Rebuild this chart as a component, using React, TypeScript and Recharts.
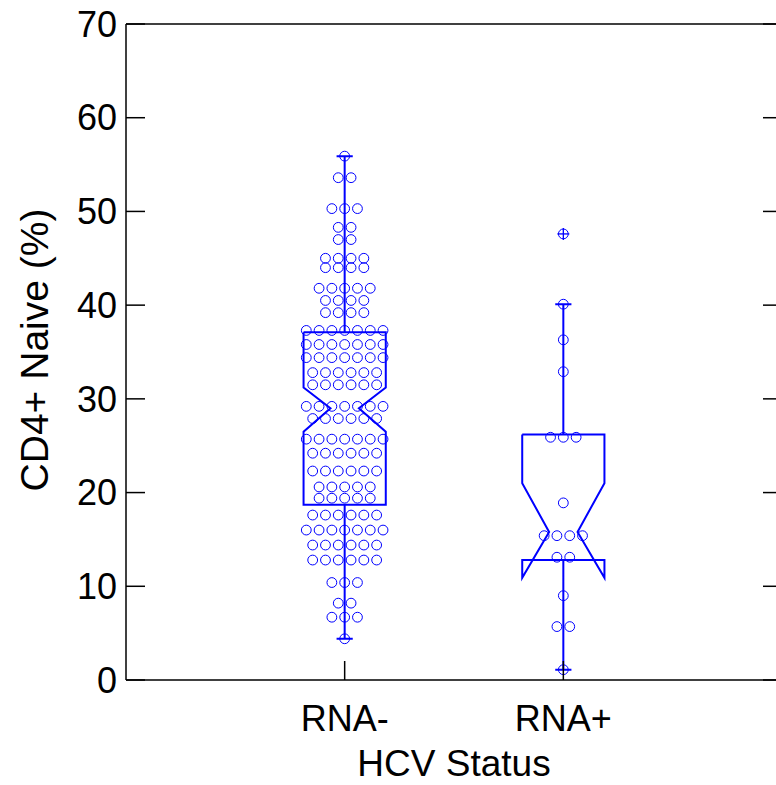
import React from 'react';
import { ComposedChart, XAxis, YAxis, Scatter, Line, ReferenceLine } from 'recharts';

const groupNames = ['RNA-', 'RNA+'];
const groupPositions = [1, 2];

// beeswarm rows: value and number of circles at that value
const rnaNegValues = [55.9, 53.6, 50.3, 48.3, 47.0, 45.0, 44.0, 41.8, 40.5, 39.2, 37.3, 35.8, 34.4, 32.8, 31.5,
  29.2, 27.9, 25.7, 24.2, 22.3, 20.6, 19.4, 17.6, 16.0, 14.4, 12.8, 10.4, 8.2, 6.7, 4.4];
const rnaNegCounts = [1, 2, 3, 2, 2, 4, 4, 5, 4, 4, 7, 7, 7, 6, 6,
  7, 6, 7, 6, 6, 5, 5, 6, 7, 6, 6, 3, 2, 3, 1];

const rnaPosValues = [40.1, 36.3, 32.9, 25.9, 18.9, 15.4, 13.1, 9.0, 5.7, 1.1];
const rnaPosCounts = [1, 1, 1, 3, 1, 4, 2, 1, 2, 1];
const rnaPosOutliers = [47.6];

// box stats: whisker low, Q1, notch low, median, notch high, Q3, whisker high
const rnaNegBox = { lo: 4.4, q1: 18.7, nLo: 26.5, med: 29.0, nHi: 31.2, q3: 37.1, hi: 55.9 };
const rnaPosBox = { lo: 1.1, q1: 12.8, nLo: 10.9, med: 15.8, nHi: 21.0, q3: 26.2, hi: 40.1 };

const yTicks = [0, 10, 20, 30, 40, 50, 60, 70];

const BLUE = '#0000ff';
const FONT = '"Liberation Sans", Arial, sans-serif';
const BOX_HALF = 0.188;
const NOTCH_HALF = 0.065;
const CAP_HALF = 0.037;
const DOT_STEP = 0.0585;

type Box = typeof rnaNegBox;

function swarm(center: number, values: number[], counts: number[]) {
  const pts: { x: number; y: number }[] = [];
  values.forEach((v, r) => {
    const n = counts[r];
    for (let i = 0; i < n; i++) {
      pts.push({ x: center + (i - (n - 1) / 2) * DOT_STEP, y: v });
    }
  });
  return pts;
}

function boxPath(c: number, b: Box) {
  const hw = BOX_HALF, nw = NOTCH_HALF, cw = CAP_HALF;
  return [
    { x: c - hw, y: b.q3 }, { x: c + hw, y: b.q3 }, { x: c + hw, y: b.nHi }, { x: c + nw, y: b.med },
    { x: c + hw, y: b.nLo }, { x: c + hw, y: b.q1 }, { x: c - hw, y: b.q1 }, { x: c - hw, y: b.nLo },
    { x: c - nw, y: b.med }, { x: c - hw, y: b.nHi }, { x: c - hw, y: b.q3 },
    { x: c, y: null },
    { x: c, y: b.q3 }, { x: c, y: b.hi },
    { x: c, y: null },
    { x: c, y: b.q1 }, { x: c, y: b.lo },
    { x: c, y: null },
    { x: c - cw, y: b.hi }, { x: c + cw, y: b.hi },
    { x: c, y: null },
    { x: c - cw, y: b.lo }, { x: c + cw, y: b.lo },
  ];
}

const negDots = swarm(groupPositions[0], rnaNegValues, rnaNegCounts);
const posDots = swarm(groupPositions[1], rnaPosValues, rnaPosCounts);
const outlierDots = rnaPosOutliers.map((v) => ({ x: groupPositions[1], y: v }));
const negBoxLine = boxPath(groupPositions[0], rnaNegBox);
const posBoxLine = boxPath(groupPositions[1], rnaPosBox);
// keeps the right-hand tick axis alive; draws nothing
const rightAnchor = yTicks.map((t) => ({ x: groupPositions[0], y: t }));

const Ring = (props: any) => (
  <circle cx={props.cx} cy={props.cy} r={4.9} fill="none" stroke={BLUE} strokeWidth={1} />
);

const OutlierMark = (props: any) => (
  <g stroke={BLUE} fill="none">
    <circle cx={props.cx} cy={props.cy} r={4.9} strokeWidth={1} />
    <line x1={props.cx - 6} y1={props.cy} x2={props.cx + 6} y2={props.cy} strokeWidth={1.3} />
    <line x1={props.cx} y1={props.cy - 6} x2={props.cx} y2={props.cy + 6} strokeWidth={1.3} />
  </g>
);

const Nothing = () => <g />;

const LeftTick = (props: any) => {
  const { x, y, payload } = props;
  return (
    <g>
      <line x1={x} y1={y} x2={x + 19} y2={y} stroke="#000" strokeWidth={1.5} />
      <text x={x - 9} y={y} dy="0.355em" textAnchor="end" fontSize={36} fontFamily={FONT} fill="#000">
        {payload.value}
      </text>
    </g>
  );
};

const RightTick = (props: any) => {
  const { x, y } = props;
  return <line x1={x} y1={y} x2={x - 19} y2={y} stroke="#000" strokeWidth={1.5} />;
};

const BottomTick = (props: any) => {
  const { x, y, payload } = props;
  const idx = groupPositions.indexOf(payload.value);
  return (
    <g>
      <line x1={x} y1={y} x2={x} y2={y - 19} stroke="#000" strokeWidth={1.5} />
      <text x={x} y={y + 51} textAnchor="middle" fontSize={36} fontFamily={FONT} fill="#000">
        {idx >= 0 ? groupNames[idx] : ''}
      </text>
    </g>
  );
};

export default function App() {
  return (
    <div style={{ position: 'absolute', left: 0, top: 0, width: 776, height: 785, overflow: 'hidden', background: '#fff' }}>
      <ComposedChart width={790} height={785} margin={{ top: 24, right: 0, bottom: 0, left: 0 }}>
        <XAxis
          type="number"
          dataKey="x"
          domain={[0, 3]}
          ticks={groupPositions}
          interval={0}
          height={105}
          tickSize={0}
          tickMargin={0}
          tick={BottomTick}
          axisLine={{ stroke: '#000', strokeWidth: 1.5 }}
          label={{
            content: () => (
              <text x={454} y={776} textAnchor="middle" fontSize={37} fontFamily={FONT} fill="#000">
                HCV Status
              </text>
            ),
          }}
        />
        <YAxis
          type="number"
          dataKey="y"
          domain={[0, 70]}
          ticks={yTicks}
          interval={0}
          width={126}
          tickSize={0}
          tickMargin={0}
          tick={LeftTick}
          axisLine={{ stroke: '#000', strokeWidth: 1.5 }}
          label={{
            content: () => (
              <text
                x={34}
                y={350}
                transform="rotate(-90, 34, 350)"
                textAnchor="middle"
                dominantBaseline="central"
                fontSize={39}
                fontFamily={FONT}
                fill="#000"
              >
                CD4+ Naive (%)
              </text>
            ),
          }}
        />
        <YAxis
          yAxisId="right"
          orientation="right"
          type="number"
          dataKey="y"
          domain={[0, 70]}
          ticks={yTicks}
          interval={0}
          width={8}
          tickSize={0}
          tickMargin={0}
          tick={RightTick}
          axisLine={false}
        />
        <ReferenceLine y={70} stroke="#000" strokeWidth={1.5} />
        <Scatter yAxisId="right" data={rightAnchor} shape={Nothing} isAnimationActive={false} />
        <Scatter data={negDots} shape={Ring} isAnimationActive={false} />
        <Scatter data={posDots} shape={Ring} isAnimationActive={false} />
        <Scatter data={outlierDots} shape={OutlierMark} isAnimationActive={false} />
        <Line data={negBoxLine} dataKey="y" type="linear" stroke={BLUE} strokeWidth={2} dot={false} activeDot={false} isAnimationActive={false} />
        <Line data={posBoxLine} dataKey="y" type="linear" stroke={BLUE} strokeWidth={2} dot={false} activeDot={false} isAnimationActive={false} />
      </ComposedChart>
    </div>
  );
}
